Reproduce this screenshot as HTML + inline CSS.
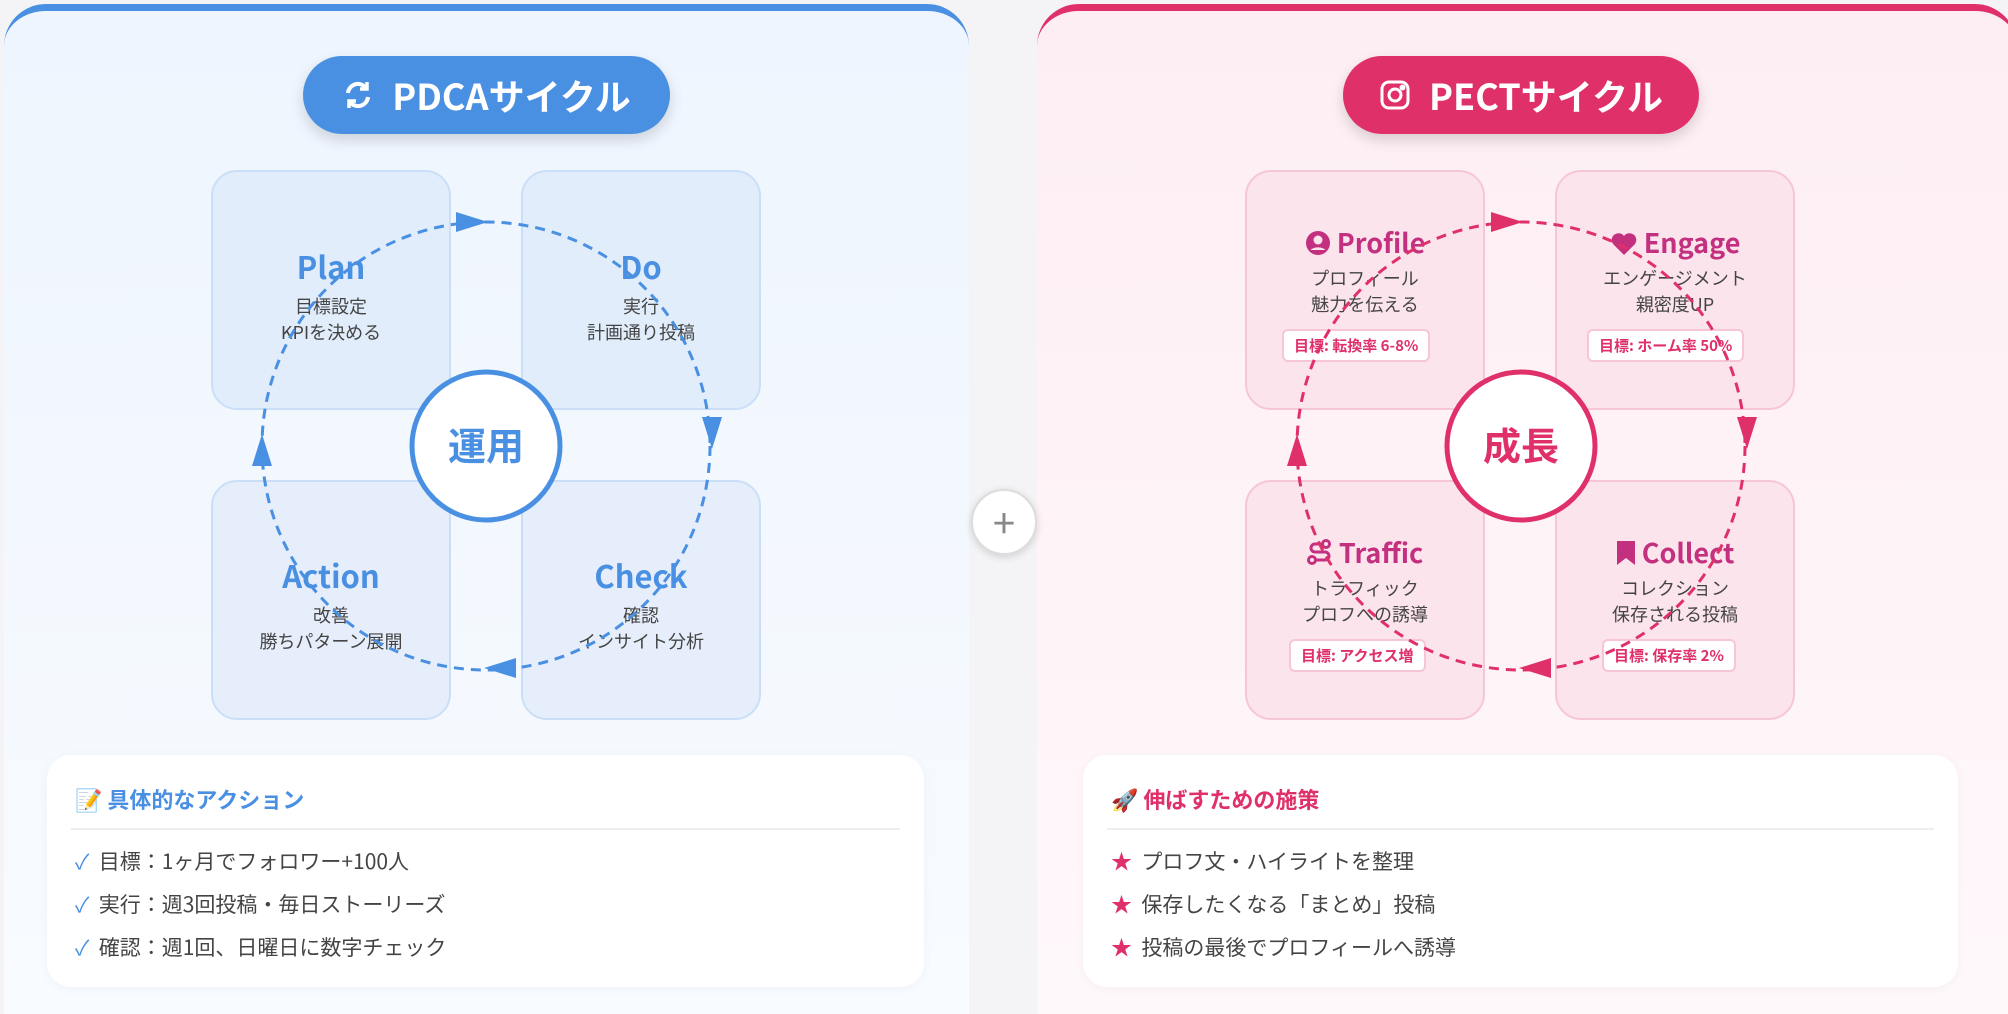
<!DOCTYPE html>
<html><head><meta charset="utf-8"><style>
*{margin:0;padding:0;box-sizing:border-box}
body{width:2008px;height:1004px;background:#f4f4f6;font-family:"Noto Sans CJK JP","Liberation Sans",sans-serif;position:relative;overflow:hidden}
.panel{position:absolute;top:4px;height:1010px;border-radius:42px 42px 0 0;overflow:hidden}
.p1{left:4px;width:965px;background:linear-gradient(#eef5fe,#f8fbff);border-top:7px solid #4a90e2}
.p2{left:1037px;width:980px;background:linear-gradient(#fdeef3,#fff8fa);border-top:7px solid #e0306a}
.pill{position:absolute;height:78px;border-radius:39px;color:#fff;font-weight:bold;font-size:36px;display:flex;align-items:center;justify-content:center;gap:18px;box-shadow:0 6px 14px rgba(0,0,0,.15)}
.box{position:absolute;width:240px;height:240px;border-radius:26px;text-align:center}
.b1{background:#e1edfb;border:2px solid #cadff7}
.b2{background:#fce4ec;border:2px solid #f7c6d6}
.t{position:absolute;font-weight:bold;font-size:31px;width:240px;text-align:center;line-height:40px}
.s{position:absolute;font-size:18px;color:#444;width:240px;text-align:center;line-height:26px}
.badge{position:absolute;background:#fff;border:2px solid #f7c6d6;border-radius:6px;color:#e0306a;font-weight:bold;font-size:15px;height:33px;line-height:29px;padding:0 10px;white-space:nowrap}
.card{position:absolute;top:755px;height:232px;background:#fff;border-radius:24px;box-shadow:0 2px 10px rgba(0,0,0,.04)}
.card h3{position:absolute;left:28px;top:28px;font-size:22px;line-height:32px}
.card .hr{position:absolute;left:24px;right:24px;top:73px;height:2px;background:#eee}
.card .li{position:absolute;left:28px;font-size:21px;color:#444;line-height:30px}
.plus{position:absolute;left:971px;top:489px;width:66px;height:66px;border-radius:50%;background:#fff;border:2px solid #ddd;box-shadow:0 2px 8px rgba(0,0,0,.15);font-size:40px;color:#888;text-align:center;line-height:60px}
</style></head><body>
<div class="panel p1"></div>
<div class="panel p2"></div>

<div class="pill" style="left:303px;top:56px;width:367px;background:#4a90e2">
<svg width="32" height="32" viewBox="0 0 32 32" fill="none" stroke="#fff" stroke-width="4"><path d="M6 14a10 10 0 0 1 18-5"/><path d="M26 18a10 10 0 0 1-18 5"/><path d="M25 3v7h-7" stroke-width="3.5"/><path d="M7 29v-7h7" stroke-width="3.5"/></svg>PDCAサイクル</div>
<div class="pill" style="left:1343px;top:56px;width:356px;background:#e0306a">
<svg width="32" height="32" viewBox="0 0 32 32" fill="none" stroke="#fff" stroke-width="3"><rect x="3" y="3" width="26" height="26" rx="7"/><circle cx="16" cy="16" r="6"/><circle cx="23.5" cy="8.5" r="1.5" fill="#fff"/></svg>PECTサイクル</div>

<div class="box b1" style="left:211px;top:170px"></div>
<div class="box b1" style="left:521px;top:170px"></div>
<div class="box b1" style="left:211px;top:480px;background:#e5eefa"></div>
<div class="box b1" style="left:521px;top:480px;background:#e5eefa"></div>
<div class="t" style="left:211px;top:246px;color:#4a90e2">Plan</div>
<div class="s" style="left:211px;top:293px">目標設定<br>KPIを決める</div>
<div class="t" style="left:521px;top:246px;color:#4a90e2">Do</div>
<div class="s" style="left:521px;top:293px">実行<br>計画通り投稿</div>
<div class="t" style="left:211px;top:555px;color:#4a90e2">Action</div>
<div class="s" style="left:211px;top:602px">改善<br>勝ちパターン展開</div>
<div class="t" style="left:521px;top:555px;color:#4a90e2">Check</div>
<div class="s" style="left:521px;top:602px">確認<br>インサイト分析</div>

<div class="box b2" style="left:1245px;top:170px"></div>
<div class="box b2" style="left:1555px;top:170px"></div>
<div class="box b2" style="left:1245px;top:480px"></div>
<div class="box b2" style="left:1555px;top:480px"></div>
<div class="t" style="left:1245px;top:222px;color:#c2307f;font-size:27px">
<svg width="26" height="26" viewBox="0 0 26 26" style="vertical-align:-3px"><circle cx="13" cy="13" r="12" fill="#c2307f"/><circle cx="13" cy="10" r="4.5" fill="#fce4ec"/><path d="M5.5 20a9 6 0 0 1 15 0" fill="#fce4ec"/></svg> Profile</div>
<div class="s" style="left:1245px;top:265px">プロフィール<br>魅力を伝える</div>
<div class="badge" style="left:1282px;top:329px">目標: 転換率 6-8%</div>
<div class="t" style="left:1555px;top:222px;color:#c2307f;font-size:27px">
<svg width="28" height="24" viewBox="0 0 28 24" style="vertical-align:-3px"><path d="M14 23L3 12a6.5 6.5 0 0 1 11-8a6.5 6.5 0 0 1 11 8z" fill="#c2307f"/></svg> Engage</div>
<div class="s" style="left:1555px;top:265px">エンゲージメント<br>親密度UP</div>
<div class="badge" style="left:1587px;top:329px">目標: ホーム率 50%</div>
<div class="t" style="left:1245px;top:532px;color:#c2307f;font-size:27px">
<svg width="26" height="28" viewBox="0 0 26 28" style="vertical-align:-3px" fill="none" stroke="#c2307f" stroke-width="3"><circle cx="5" cy="22" r="3.5"/><circle cx="19" cy="6" r="3.5"/><path d="M8 22h10a4 4 0 0 0 0-8H8a4 4 0 0 1 0-8h7"/></svg> Traffic</div>
<div class="s" style="left:1245px;top:575px">トラフィック<br>プロフへの誘導</div>
<div class="badge" style="left:1289px;top:639px">目標: アクセス増</div>
<div class="t" style="left:1555px;top:532px;color:#c2307f;font-size:27px">
<svg width="20" height="26" viewBox="0 0 20 26" style="vertical-align:-3px"><path d="M1 1h18v24l-9-7-9 7z" fill="#c2307f"/></svg> Collect</div>
<div class="s" style="left:1555px;top:575px">コレクション<br>保存される投稿</div>
<div class="badge" style="left:1602px;top:639px">目標: 保存率 2%</div>

<svg width="2008" height="1004" style="position:absolute;left:0;top:0">
<g fill="none" stroke-width="3" stroke-dasharray="10 7">
<circle cx="486" cy="446" r="224" stroke="#4a90e2"/>
<circle cx="1521" cy="446" r="224" stroke="#e0306a"/>
</g>
<g fill="#4a90e2">
<path d="M456 212l32 10-32 10z"/><path d="M702 417l10 32 10-32z"/><path d="M516 658l-32 10 32 10z"/><path d="M252 466l10-32 10 32z"/>
</g>
<g fill="#e0306a">
<path d="M1491 212l32 10-32 10z"/><path d="M1737 417l10 32 10-32z"/><path d="M1551 658l-32 10 32 10z"/><path d="M1287 466l10-32 10 32z"/>
</g>
<circle cx="486" cy="446" r="74" fill="#fff" stroke="#4a90e2" stroke-width="5"/>
<circle cx="1521" cy="446" r="74" fill="#fff" stroke="#e0306a" stroke-width="5"/>
<text x="486" y="460" text-anchor="middle" font-size="38" font-weight="bold" fill="#4a90e2" font-family="Noto Sans CJK JP,Liberation Sans,sans-serif">運用</text>
<text x="1521" y="460" text-anchor="middle" font-size="38" font-weight="bold" fill="#e0306a" font-family="Noto Sans CJK JP,Liberation Sans,sans-serif">成長</text>
</svg>

<div class="plus">+</div>

<div class="card" style="left:47px;width:877px">
<h3 style="color:#4a90e2">📝 具体的なアクション</h3><div class="hr"></div>
<div class="li" style="top:91px"><span style="color:#4a90e2">✓</span>&nbsp; 目標：1ヶ月でフォロワー+100人</div>
<div class="li" style="top:134px"><span style="color:#4a90e2">✓</span>&nbsp; 実行：週3回投稿・毎日ストーリーズ</div>
<div class="li" style="top:177px"><span style="color:#4a90e2">✓</span>&nbsp; 確認：週1回、日曜日に数字チェック</div>
</div>
<div class="card" style="left:1083px;width:875px">
<h3 style="color:#e0306a">🚀 伸ばすための施策</h3><div class="hr"></div>
<div class="li" style="top:91px"><span style="color:#e0306a">★</span>&nbsp; プロフ文・ハイライトを整理</div>
<div class="li" style="top:134px"><span style="color:#e0306a">★</span>&nbsp; 保存したくなる「まとめ」投稿</div>
<div class="li" style="top:177px"><span style="color:#e0306a">★</span>&nbsp; 投稿の最後でプロフィールへ誘導</div>
</div>
</body></html>
